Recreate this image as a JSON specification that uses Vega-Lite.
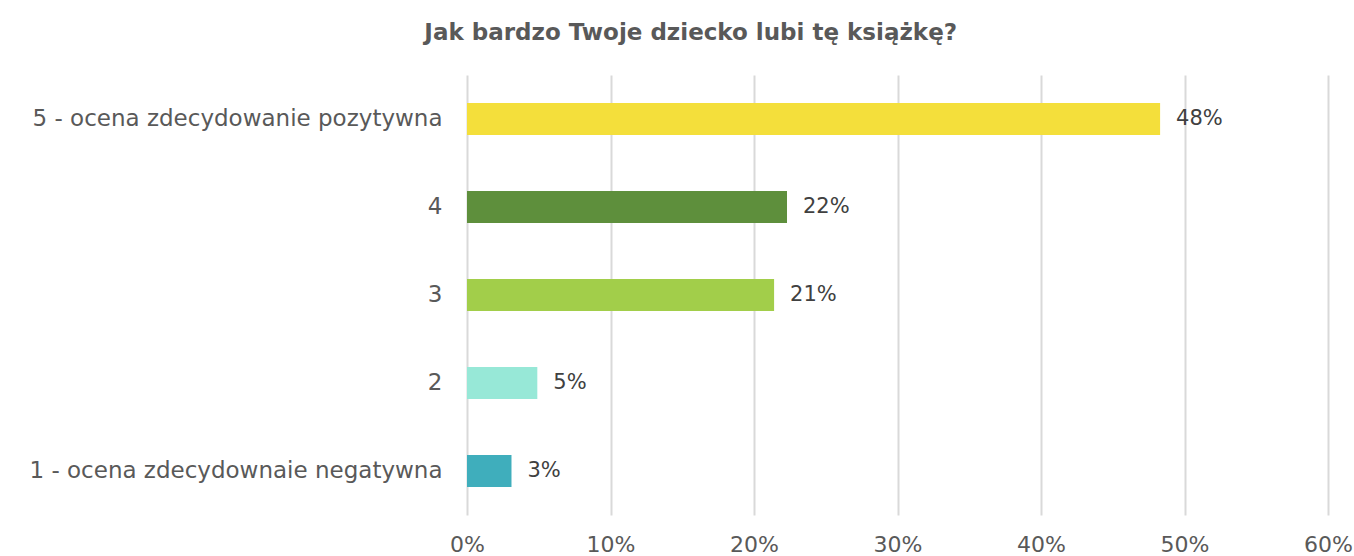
{
  "$schema": "https://vega.github.io/schema/vega-lite/v6.json",
  "width": 861,
  "height": 440,
  "autosize": {"type": "none"},
  "padding": {"left": 467, "top": 75, "right": 26, "bottom": 41},
  "background": "white",
  "config": {
    "view": {"stroke": null},
    "font": "DejaVu Sans"
  },
  "title": {
    "text": "Jak bardzo Twoje dziecko lubi tę książkę?",
    "anchor": "middle",
    "frame": "bounds",
    "fontSize": 23,
    "fontWeight": "bold",
    "color": "#595959",
    "font": "DejaVu Sans",
    "offset": 30
  },
  "data": {
    "values": [
      {"label": "5 - ocena zdecydowanie pozytywna", "value": 0.483, "order": 1},
      {"label": "4", "value": 0.223, "order": 2},
      {"label": "3", "value": 0.214, "order": 3},
      {"label": "2", "value": 0.049, "order": 4},
      {"label": "1 - ocena zdecydownaie negatywna", "value": 0.031, "order": 5}
    ]
  },
  "encoding": {
    "y": {
      "field": "label",
      "type": "nominal",
      "sort": {"field": "order"},
      "scale": {"paddingInner": 0.636, "paddingOuter": 0.318},
      "axis": {
        "title": null,
        "domain": false,
        "ticks": false,
        "labelFontSize": 23,
        "labelColor": "#595959",
        "labelPadding": 25,
        "labelLimit": 0,
        "labelFont": "DejaVu Sans"
      }
    },
    "x": {
      "field": "value",
      "type": "quantitative",
      "scale": {"domain": [0, 0.6], "nice": false},
      "axis": {
        "title": null,
        "format": ".0%",
        "values": [0, 0.1, 0.2, 0.3, 0.4, 0.5, 0.6],
        "domain": false,
        "ticks": false,
        "grid": true,
        "gridColor": "#d9d9d9",
        "gridWidth": 2,
        "labelFontSize": 22,
        "labelColor": "#595959",
        "labelPadding": 19,
        "labelAlign": "center",
        "labelFlush": false,
        "labelFont": "DejaVu Sans"
      }
    }
  },
  "layer": [
    {
      "mark": {"type": "bar"},
      "encoding": {
        "color": {
          "field": "label",
          "type": "nominal",
          "sort": {"field": "order"},
          "scale": {
            "domain": ["5 - ocena zdecydowanie pozytywna", "4", "3", "2", "1 - ocena zdecydownaie negatywna"],
            "range": ["#F4DF3B", "#5E8F3C", "#A2CE4A", "#97E8D7", "#3FAEBC"]
          },
          "legend": null
        }
      }
    },
    {
      "mark": {"type": "text", "align": "left", "dx": 16, "fontSize": 21, "color": "#404040", "font": "DejaVu Sans"},
      "encoding": {
        "text": {"field": "value", "type": "quantitative", "format": ".0%"}
      }
    }
  ]
}
